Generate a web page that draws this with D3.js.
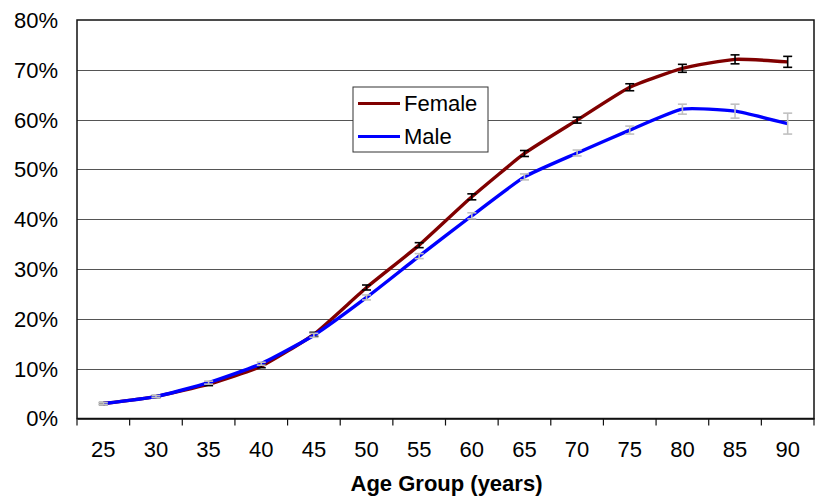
<!DOCTYPE html>
<html>
<head>
<meta charset="utf-8">
<script src="https://cdn.jsdelivr.net/npm/d3@7/dist/d3.min.js"></script>
<style>
  html, body { margin: 0; padding: 0; background: #fff; }
  svg { display: block; font-family: Arial, "Liberation Sans", sans-serif; }
</style>
</head>
<body>
<svg id="chart" width="819" height="497"></svg>
<script>
// Age groups (years)
const ageGroups = ["25", "30", "35", "40", "45", "50", "55", "60", "65", "70", "75", "80", "85", "90"];
// Proportion (%) per age group, with half-width of error bar (%)
const femaleValues = [3.0, 4.4, 6.9, 10.5, 16.9, 26.3, 34.8, 44.5, 53.2, 59.9, 66.5, 70.3, 72.1, 71.6];
const femaleErr    = [0.2, 0.2, 0.3, 0.3, 0.4, 0.5, 0.5, 0.6, 0.6, 0.6, 0.7, 0.8, 0.9, 1.1];
const maleValues   = [3.0, 4.4, 7.2, 11.0, 16.7, 24.3, 32.6, 40.7, 48.5, 53.3, 57.9, 62.1, 61.7, 59.2];
const maleErr      = [0.2, 0.2, 0.3, 0.3, 0.4, 0.5, 0.5, 0.6, 0.6, 0.6, 0.8, 1.0, 1.4, 2.1];
const yTicks = [0, 10, 20, 30, 40, 50, 60, 70, 80];
const legendLabels = ["Female", "Male"];

const svg = d3.select("#chart");
const margin = { left: 77, top: 20, right: 4, bottom: 78.5 };
const W = 819, H = 497;
const innerW = W - margin.left - margin.right - 1;
const innerH = H - margin.top - margin.bottom;
const FS = 22;

const x = d3.scaleBand().domain(ageGroups).range([0, innerW]).padding(0);
const y = d3.scaleLinear().domain([0, 80]).range([innerH, 0]);

const g = svg.append("g").attr("transform", `translate(${margin.left},${margin.top})`);

// horizontal gridlines
g.append("g").selectAll("line").data(yTicks.filter(t => t > 0 && t < 80)).join("line")
  .attr("x1", 0).attr("x2", innerW)
  .attr("y1", d => Math.round(y(d)) + 0.5).attr("y2", d => Math.round(y(d)) + 0.5)
  .attr("stroke", "#555").attr("stroke-width", 1);

// plot frame
g.append("rect").attr("x", 0).attr("y", 0).attr("width", innerW).attr("height", innerH)
  .attr("fill", "none").attr("stroke", "#111").attr("stroke-width", 1.5);

// y axis labels
g.append("g").selectAll("text").data(yTicks).join("text")
  .attr("x", -19).attr("y", d => y(d))
  .attr("dy", "0.36em").attr("text-anchor", "end")
  .attr("font-size", FS).attr("fill", "#000")
  .text(d => d + "%");

// x axis ticks and labels
const xAxis = d3.axisBottom(x).tickSize(0).tickPadding(23);
const xg = g.append("g").attr("transform", `translate(0,${innerH})`).call(xAxis);
xg.select(".domain").attr("stroke", "#111").attr("stroke-width", 1.5);
xg.selectAll("text").attr("font-size", FS).attr("fill", "#000").attr("font-family", "Arial, 'Liberation Sans', sans-serif");
g.append("g").selectAll("line").data(d3.range(ageGroups.length + 1)).join("line")
  .attr("x1", i => i * x.bandwidth()).attr("x2", i => i * x.bandwidth())
  .attr("y1", innerH).attr("y2", innerH + 7)
  .attr("stroke", "#111").attr("stroke-width", 1.2);

// x axis title
g.append("text")
  .attr("x", innerW / 2 + 1).attr("y", innerH + 72)
  .attr("text-anchor", "middle").attr("font-size", FS).attr("font-weight", "bold")
  .text("Age Group (years)");

const cx = d => x(d) + x.bandwidth() / 2;

function drawSeries(values, errs, color, errColor) {
  const pts = ageGroups.map((a, i) => ({ a, v: values[i], e: errs[i] }));
  const line = d3.line().x(d => cx(d.a)).y(d => y(d.v)).curve(d3.curveCardinal.tension(0.5));
  g.append("path").datum(pts)
    .attr("d", line).attr("fill", "none")
    .attr("stroke", color).attr("stroke-width", 3.4).attr("stroke-linejoin", "round");
  const eb = g.append("g").attr("stroke", errColor).attr("stroke-width", 1.6);
  pts.forEach(d => {
    const x0 = cx(d.a);
    eb.append("line").attr("x1", x0).attr("x2", x0).attr("y1", y(d.v + d.e)).attr("y2", y(d.v - d.e));
    eb.append("line").attr("x1", x0 - 4.5).attr("x2", x0 + 4.5).attr("y1", y(d.v + d.e)).attr("y2", y(d.v + d.e));
    eb.append("line").attr("x1", x0 - 4.5).attr("x2", x0 + 4.5).attr("y1", y(d.v - d.e)).attr("y2", y(d.v - d.e));
  });
}

drawSeries(femaleValues, femaleErr, "#800000", "#000");
drawSeries(maleValues, maleErr, "#0000ff", "#c0c0c0");

// legend
const lg = svg.append("g").attr("transform", "translate(353,87)");
lg.append("rect").attr("x", 0).attr("y", 0).attr("width", 135).attr("height", 65)
  .attr("fill", "#fff").attr("stroke", "#333").attr("stroke-width", 1);
const legendColors = ["#800000", "#0000ff"];
legendLabels.forEach((lab, i) => {
  const ly = 16.5 + i * 33;
  lg.append("line").attr("x1", 5).attr("x2", 47).attr("y1", ly).attr("y2", ly)
    .attr("stroke", legendColors[i]).attr("stroke-width", 3);
  lg.append("text").attr("x", 51).attr("y", ly).attr("dy", "0.36em")
    .attr("font-size", FS).text(lab);
});
</script>
</body>
</html>
